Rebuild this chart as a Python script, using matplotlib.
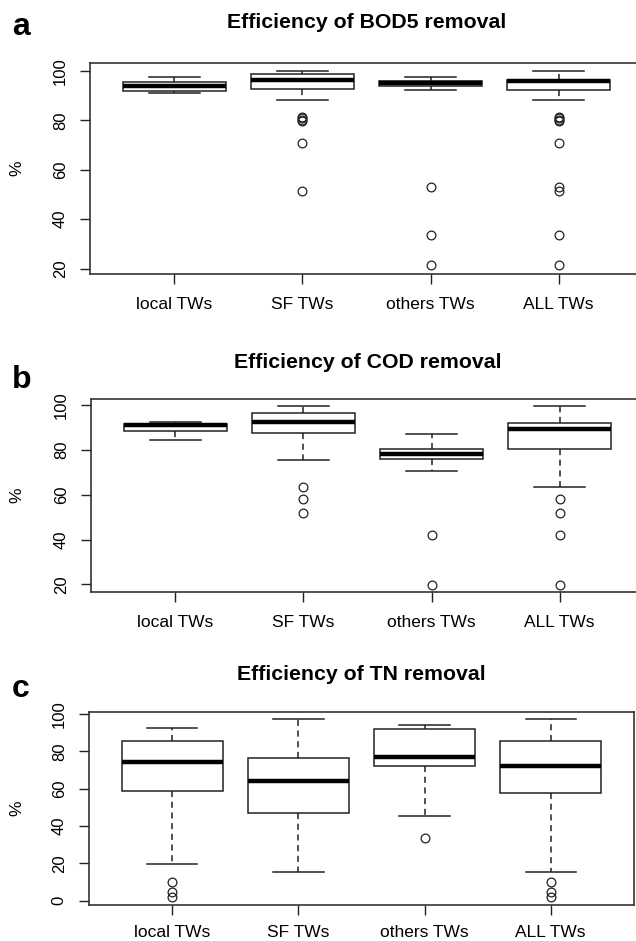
import matplotlib
matplotlib.use("Agg")
import matplotlib.pyplot as plt

plt.rcParams['font.family'] = ['Liberation Sans', 'DejaVu Sans']

groups = ["local TWs", "SF TWs", "others TWs", "ALL TWs"]

# BOD5 removal (%)
bod_lo = [90.9, 88.3, 92.3, 88.3]
bod_q1 = [91.9, 92.6, 94.0, 92.2]
bod_med = [94.0, 96.2, 95.2, 95.9]
bod_q3 = [95.7, 98.7, 96.1, 96.4]
bod_hi = [97.4, 100.0, 97.4, 100.0]
bod_out = [[],
           [81.5, 80.8, 80.2, 79.6, 70.8, 51.5],
           [53.2, 33.4, 21.5],
           [81.5, 80.8, 80.2, 79.6, 70.8, 53.2, 51.5, 33.4, 21.5]]

# COD removal (%)
cod_lo = [84.6, 75.6, 70.9, 63.7]
cod_q1 = [88.4, 87.5, 76.2, 80.5]
cod_med = [91.1, 92.4, 78.4, 89.3]
cod_q3 = [91.8, 96.6, 80.5, 92.3]
cod_hi = [92.4, 99.7, 87.1, 99.7]
cod_out = [[], [63.7, 58.4, 51.8], [42.2, 19.9], [58.4, 51.8, 42.2, 19.9]]

# TN removal (%)
tn_lo = [19.6, 15.5, 45.5, 15.5]
tn_q1 = [58.7, 46.8, 72.3, 57.7]
tn_med = [74.3, 63.9, 77.0, 72.3]
tn_q3 = [85.9, 76.6, 92.1, 85.9]
tn_hi = [92.7, 97.3, 94.3, 97.3]
tn_out = [[9.8, 4.8, 2.0], [], [33.4], [9.8, 4.8, 2.0]]

panels = [
    ("a", "Efficiency of BOD5 removal", bod_lo, bod_q1, bod_med, bod_q3, bod_hi, bod_out,
     [20, 40, 60, 80, 100], (17.8, 103.2), [90, 63, 643, 274], 23, 35, 9),
    ("b", "Efficiency of COD removal", cod_lo, cod_q1, cod_med, cod_q3, cod_hi, cod_out,
     [20, 40, 60, 80, 100], (16.6, 102.9), [91, 399, 644, 592], 362, 388, 9),
    ("c", "Efficiency of TN removal", tn_lo, tn_q1, tn_med, tn_q3, tn_hi, tn_out,
     [0, 20, 40, 60, 80, 100], (-2.4, 101.2), [89, 712, 634, 905], 675, 697, 7),
]

W, H = 636, 941
fig = plt.figure(figsize=(W / 100, H / 100), dpi=100)

for letter, title, lo, q1, med, q3, hi, out, yt, ylim, box, ty, ly, xpad in panels:
    l, t, r, b = box
    ax = fig.add_axes([l / W, 1 - b / H, (r - l) / W, (b - t) / H])
    stats = []
    for i in range(len(groups)):
        stats.append({'whislo': lo[i], 'q1': q1[i], 'med': med[i], 'q3': q3[i],
                      'whishi': hi[i], 'fliers': out[i], 'label': groups[i]})
    ax.bxp(stats, positions=[1, 2, 3, 4], widths=0.8, capwidths=0.4,
           patch_artist=True, showfliers=True,
           boxprops=dict(facecolor='white', edgecolor='#222222', linewidth=1.1),
           medianprops=dict(color='black', linewidth=3.2, solid_capstyle='butt'),
           whiskerprops=dict(color='#222222', linewidth=1.1, linestyle=(0, (4, 3))),
           capprops=dict(color='#222222', linewidth=1.1),
           flierprops=dict(marker='o', markerfacecolor='none', markeredgecolor='#222222',
                           markersize=6.3, markeredgewidth=0.9))
    ax.set_xlim(0.34, 4.66)
    ax.set_ylim(*ylim)
    ax.set_yticks(yt)
    ax.set_yticklabels([str(v) for v in yt], rotation=90, va='center')
    ax.tick_params(axis='y', length=7, width=1, pad=9, labelsize=12, color='#222222')
    ax.tick_params(axis='x', length=7.5, width=1, pad=xpad, labelsize=12.5, color='#222222')
    for s in ax.spines.values():
        s.set_linewidth(1.2)
        s.set_color('#333333')
    cx = (l + r) / 2 / W
    fig.text(cx, 1 - ty / H, title, ha='center', va='center', fontsize=15.3, fontweight='bold')
    fig.text(12 / W, 1 - ly / H, letter, ha='left', va='baseline', fontsize=23, fontweight='bold')
    fig.text(17 / W, 1 - (t + b) / 2 / H, "%", ha='center', va='center', rotation=90, fontsize=12.5)

fig.savefig("out.png", dpi=100)
